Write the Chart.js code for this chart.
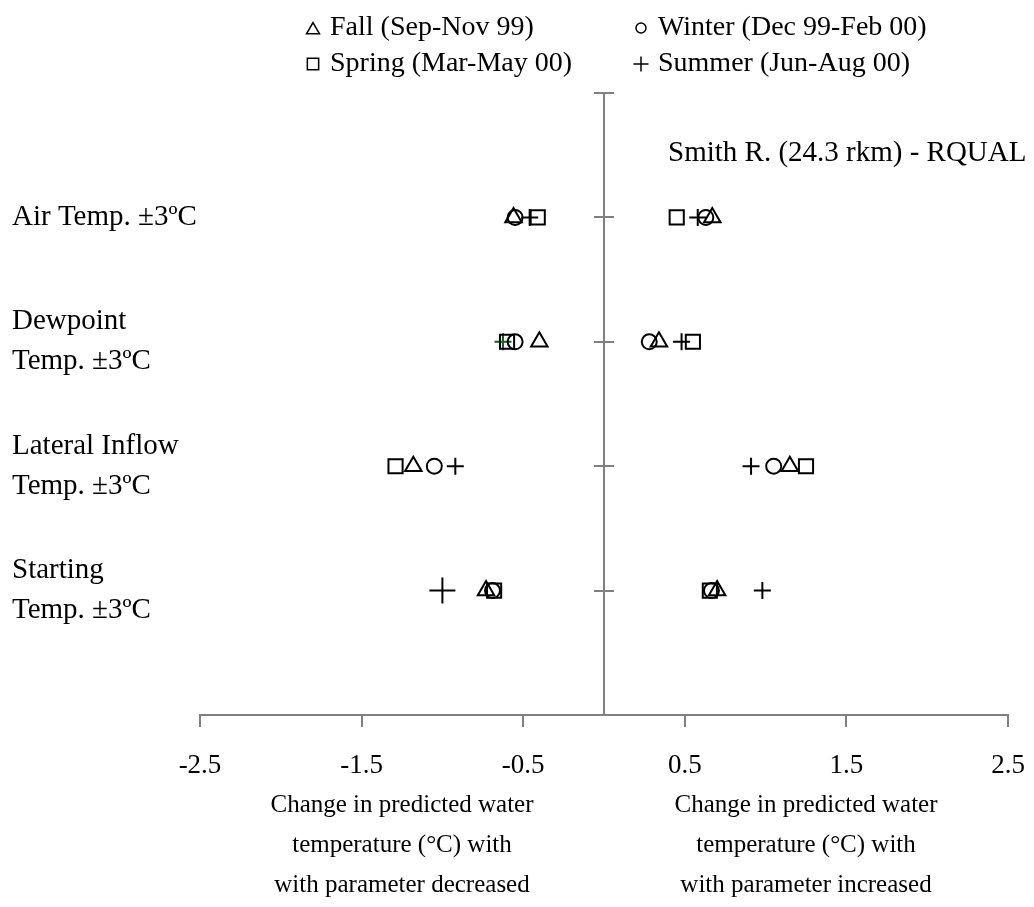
<!DOCTYPE html>
<html>
<head>
<meta charset="utf-8">
<title>Smith R. - RQUAL</title>
<script src="https://cdn.jsdelivr.net/npm/chart.js@4.4.1/dist/chart.umd.min.js"></script>
<style>
    body { margin: 0; background: #ffffff; }
    canvas { display: block; }
</style>
</head>
<body>
<canvas id="grafico" width="1034" height="907"></canvas>
<script>
// parametros (de cima para baixo) e a posicao de cada um no eixo vertical
const categorias = [
    ["Air Temp. ±3ºC"],
    ["Dewpoint", "Temp. ±3ºC"],
    ["Lateral Inflow", "Temp. ±3ºC"],
    ["Starting", "Temp. ±3ºC"]
];
const posicaoCategoria = [4, 3, 2, 1];

// variacao da temperatura prevista (°C), parametro diminuido / aumentado
const outonoMenos = [-0.56, -0.40, -1.18, -0.73];
const outonoMais = [0.67, 0.34, 1.15, 0.70];
const invernoMenos = [-0.55, -0.55, -1.05, -0.69];
const invernoMais = [0.63, 0.28, 1.05, 0.665];
const primaveraMenos = [-0.41, -0.60, -1.29, -0.68];
const primaveraMais = [0.45, 0.55, 1.25, 0.655];
const veraoMenos = [-0.46, -0.625, -0.92, -1.00];
const veraoMais = [0.58, 0.48, 0.91, 0.98];

const marcasEixoX = [-2.5, -1.5, -0.5, 0.5, 1.5, 2.5];
const nomesEstacoes = ["Fall (Sep-Nov 99)", "Winter (Dec 99-Feb 00)", "Spring (Mar-May 00)", "Summer (Jun-Aug 00)"];
const tituloEsquerda = ["Change in predicted water", "temperature (°C) with", "with parameter decreased"];
const tituloDireita = ["Change in predicted water", "temperature (°C) with", "with parameter increased"];
const rotuloEstacao = "Smith R. (24.3 rkm) - RQUAL";

const familia = "'Liberation Serif', 'Times New Roman', serif";
const cinza = "#808080";

function montarPontos(menos, mais) {
    const pontos = [];
    menos.forEach(function (valor, i) {
        pontos.push({ x: valor, y: posicaoCategoria[i] });
    });
    mais.forEach(function (valor, i) {
        pontos.push({ x: valor, y: posicaoCategoria[i] });
    });
    return pontos;
}

// o + do verao em Dewpoint (diminuido) aparece verde e o de Starting maior
const corVerao = veraoMenos.concat(veraoMais).map(function (v, i) {
    return i === 1 ? "#1d5f1d" : "#000000";
});
const raioVerao = veraoMenos.concat(veraoMais).map(function (v, i) {
    return i === 3 ? 13 : 8.5;
});

const conjuntos = [
    { label: nomesEstacoes[0], data: montarPontos(outonoMenos, outonoMais), pointStyle: "triangle", pointRadius: 9.5, legendaRaio: 7.5 },
    { label: nomesEstacoes[1], data: montarPontos(invernoMenos, invernoMais), pointStyle: "circle", pointRadius: 7.5, legendaRaio: 5 },
    { label: nomesEstacoes[2], data: montarPontos(primaveraMenos, primaveraMais), pointStyle: "rect", pointRadius: 10, legendaRaio: 8 },
    { label: nomesEstacoes[3], data: montarPontos(veraoMenos, veraoMais), pointStyle: "cross", pointRadius: raioVerao, pointBorderColor: corVerao, legendaRaio: 7.5 }
];

conjuntos.forEach(function (c) {
    c.showLine = false;
    c.pointBackgroundColor = "rgba(0,0,0,0)";
    if (!c.pointBorderColor) {
        c.pointBorderColor = "#000000";
    }
    c.pointBorderWidth = 2;
    c.pointHoverRadius = c.pointRadius;
});

// legenda em grade 2x2, cruzes de marca no eixo central e textos soltos
const extras = {
    id: "extras",
    afterDraw: function (chart) {
        const ctx = chart.ctx;
        const eixoX = chart.scales.x;
        const eixoCentro = chart.scales.yCentro;
        const xZero = eixoX.getPixelForValue(0);

        ctx.save();
        ctx.strokeStyle = cinza;
        ctx.lineWidth = 2;
        eixoCentro.ticks.forEach(function (t) {
            const y = Math.round(eixoCentro.getPixelForValue(t.value));
            ctx.beginPath();
            ctx.moveTo(xZero - 10, y);
            ctx.lineTo(xZero + 10, y);
            ctx.stroke();
        });

        ctx.fillStyle = "#000000";
        ctx.textBaseline = "middle";
        ctx.textAlign = "left";
        ctx.font = "29px " + familia;
        ctx.fillText(rotuloEstacao, 668, 153);

        // legenda
        ctx.font = "28px " + familia;
        const colunas = [313, 641];
        const linhas = [28, 64];
        conjuntos.forEach(function (c, i) {
            const mx = colunas[i % 2];
            const my = linhas[Math.floor(i / 2)];
            ctx.fillStyle = "rgba(0,0,0,0)";
            ctx.strokeStyle = "#000000";
            ctx.lineWidth = 1.5;
            Chart.helpers.drawPoint(ctx, {
                pointStyle: c.pointStyle,
                radius: c.legendaRaio,
                rotation: 0,
                borderWidth: 1.5
            }, mx, c.pointStyle === "triangle" ? my + 2 : my);
            ctx.fillStyle = "#000000";
            ctx.fillText(c.label, mx + 17, my);
        });

        // titulos de cada metade do eixo x
        ctx.font = "25px " + familia;
        ctx.textAlign = "center";
        const centroEsq = (eixoX.left + xZero) / 2;
        const centroDir = (eixoX.right + xZero) / 2;
        tituloEsquerda.forEach(function (linha, i) {
            ctx.fillText(linha, centroEsq, eixoX.top + 90 + i * 40);
        });
        tituloDireita.forEach(function (linha, i) {
            ctx.fillText(linha, centroDir, eixoX.top + 90 + i * 40);
        });
        ctx.restore();
    }
};

const grafico = new Chart(document.getElementById("grafico"), {
    type: "scatter",
    data: { datasets: conjuntos },
    options: {
        responsive: false,
        animation: false,
        events: [],
        layout: { padding: { left: 12, right: 26, top: 93, bottom: 0 } },
        plugins: {
            legend: { display: false },
            tooltip: { enabled: false }
        },
        scales: {
            x: {
                type: "linear",
                position: "bottom",
                min: -2.5,
                max: 2.5,
                afterBuildTicks: function (escala) {
                    escala.ticks = marcasEixoX.map(function (v) {
                        return { value: v };
                    });
                },
                afterFit: function (escala) {
                    escala.height = 192;
                    escala.paddingLeft = 0;
                    escala.paddingRight = 0;
                },
                ticks: {
                    color: "#000000",
                    font: { family: familia, size: 27 },
                    padding: 23,
                    maxRotation: 0,
                    callback: function (valor) {
                        return Number(valor).toFixed(1);
                    }
                },
                grid: { drawOnChartArea: false, drawTicks: true, tickLength: 12, color: cinza, lineWidth: 2 },
                border: { display: true, color: cinza, width: 2 }
            },
            y: {
                type: "linear",
                position: "left",
                min: 0,
                max: 5,
                afterBuildTicks: function (escala) {
                    escala.ticks = [0, 1, 2, 3, 4, 5].map(function (v) {
                        return { value: v };
                    });
                },
                afterFit: function (escala) {
                    escala.width = 188;
                },
                ticks: {
                    color: "#000000",
                    crossAlign: "far",
                    font: { family: familia, size: 29, lineHeight: 1.38 },
                    callback: function (valor) {
                        const i = posicaoCategoria.indexOf(valor);
                        return i >= 0 ? categorias[i] : "";
                    }
                },
                grid: { display: false },
                border: { display: false }
            },
            yCentro: {
                type: "linear",
                position: { x: 0 },
                min: 0,
                max: 5,
                ticks: { display: false, stepSize: 1 },
                grid: { display: true, drawOnChartArea: false, drawTicks: false },
                border: { display: true, color: cinza, width: 2 }
            }
        }
    },
    plugins: [extras]
});
</script>
</body>
</html>
